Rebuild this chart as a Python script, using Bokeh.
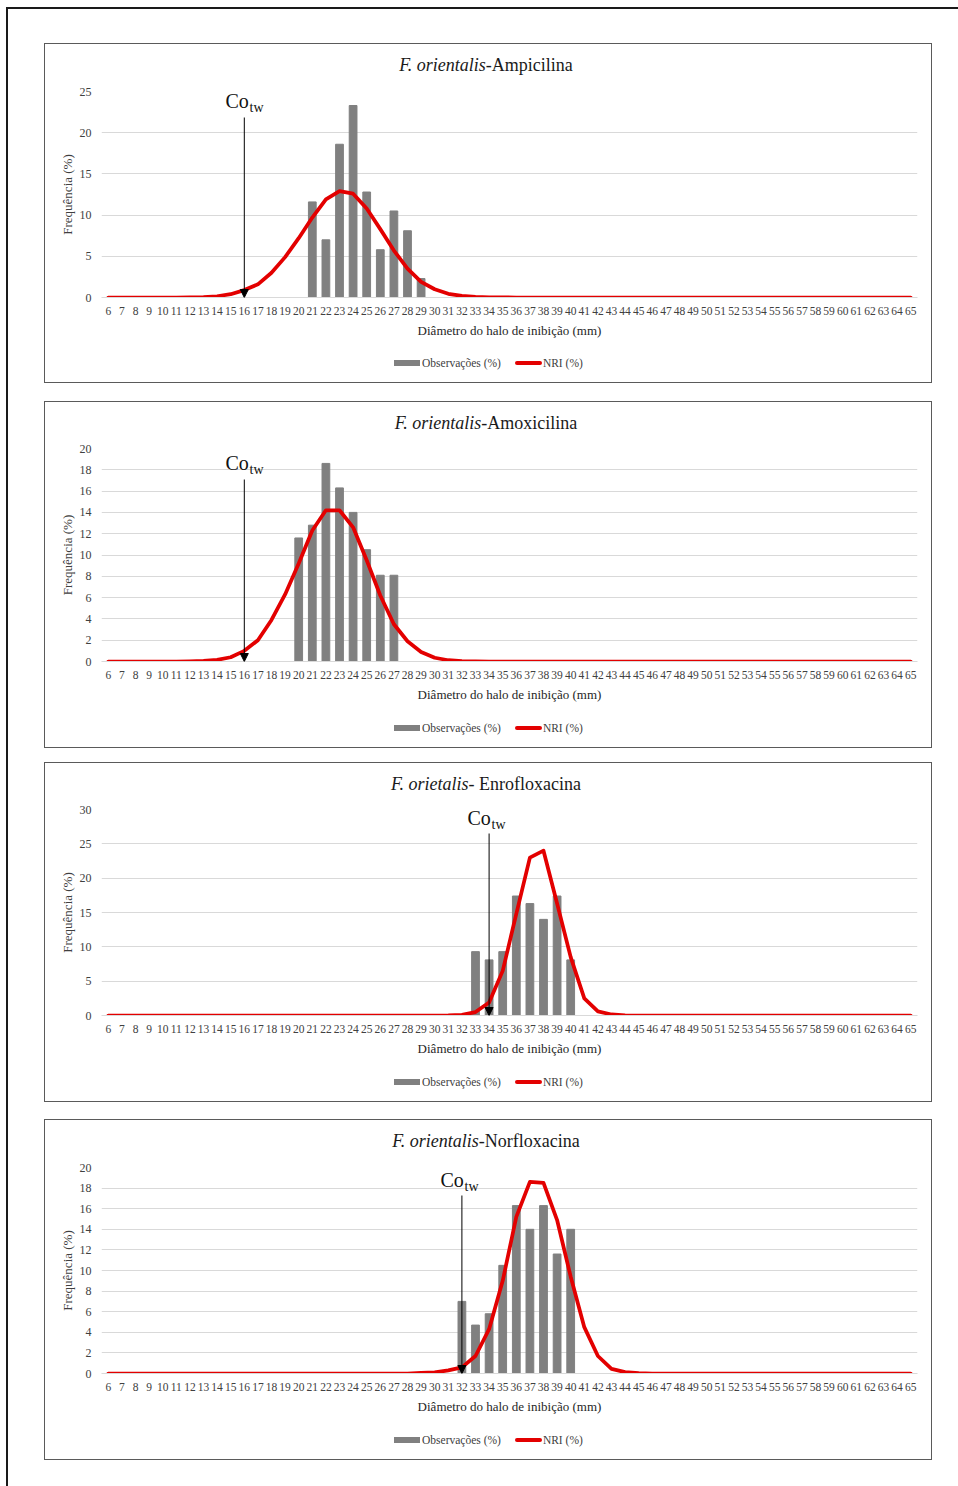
from bokeh.plotting import figure
from bokeh.layouts import column
from bokeh.models import (FixedTicker, Label, Arrow, NormalHead, Range1d, Div)
from bokeh.embed import file_html
from bokeh.resources import INLINE

# ---------------------------------------------------------------------------
# Data: inhibition-zone diameter (mm) categories and frequencies (%)
# ---------------------------------------------------------------------------
diametro = [6, 7, 8, 9, 10, 11, 12, 13, 14, 15, 16, 17, 18, 19, 20, 21, 22, 23,
            24, 25, 26, 27, 28, 29, 30, 31, 32, 33, 34, 35, 36, 37, 38, 39, 40,
            41, 42, 43, 44, 45, 46, 47, 48, 49, 50, 51, 52, 53, 54, 55, 56, 57,
            58, 59, 60, 61, 62, 63, 64, 65]

especie = ["F. orientalis", "F. orientalis", "F. orietalis", "F. orientalis"]
antibiotico = ["-Ampicilina", "-Amoxicilina", "- Enrofloxacina", "-Norfloxacina"]
serie_obs = "Observações (%)"
serie_nri = "NRI (%)"

# Ampicilina
amp_obs_x = [21, 22, 23, 24, 25, 26, 27, 28, 29]
amp_obs = [11.6, 7.0, 18.6, 23.3, 12.8, 5.8, 10.5, 8.1, 2.3]
amp_nri = [0, 0, 0, 0, 0, 0, 0.01, 0.05, 0.15, 0.4,
           0.9, 1.6, 3.0, 4.9, 7.2, 9.7, 11.9, 12.9, 12.6, 10.8,
           8.3, 5.7, 3.5, 1.9, 1.0, 0.45, 0.2, 0.08, 0.03, 0.01,
           0, 0, 0, 0, 0, 0, 0, 0, 0, 0,
           0, 0, 0, 0, 0, 0, 0, 0, 0, 0,
           0, 0, 0, 0, 0, 0, 0, 0, 0, 0]
amp_cotw = 16

# Amoxicilina
amox_obs_x = [20, 21, 22, 23, 24, 25, 26, 27]
amox_obs = [11.6, 12.8, 18.6, 16.3, 14.0, 10.5, 8.1, 8.1]
amox_nri = [0, 0, 0, 0, 0, 0, 0.02, 0.06, 0.15, 0.4,
            1.0, 2.0, 3.9, 6.3, 9.2, 12.3, 14.2, 14.2, 12.6, 9.5,
            6.2, 3.5, 1.9, 0.9, 0.35, 0.12, 0.04, 0.01, 0, 0,
            0, 0, 0, 0, 0, 0, 0, 0, 0, 0,
            0, 0, 0, 0, 0, 0, 0, 0, 0, 0,
            0, 0, 0, 0, 0, 0, 0, 0, 0, 0]
amox_cotw = 16

# Enrofloxacina
enro_obs_x = [33, 34, 35, 36, 37, 38, 39, 40]
enro_obs = [9.3, 8.1, 9.3, 17.4, 16.3, 14.0, 17.4, 8.1]
enro_nri = [0, 0, 0, 0, 0, 0, 0, 0, 0, 0,
            0, 0, 0, 0, 0, 0, 0, 0, 0, 0,
            0, 0, 0, 0, 0, 0.02, 0.1, 0.5, 1.9, 6.5,
            14.8, 23.0, 24.0, 16.3, 8.5, 2.5, 0.6, 0.15, 0.03, 0,
            0, 0, 0, 0, 0, 0, 0, 0, 0, 0,
            0, 0, 0, 0, 0, 0, 0, 0, 0, 0]
enro_cotw = 34

# Norfloxacina
norf_obs_x = [32, 33, 34, 35, 36, 37, 38, 39, 40]
norf_obs = [7.0, 4.7, 5.8, 10.5, 16.3, 14.0, 16.3, 11.6, 14.0]
norf_nri = [0, 0, 0, 0, 0, 0, 0, 0, 0, 0,
            0, 0, 0, 0, 0, 0, 0, 0, 0, 0,
            0, 0, 0, 0.05, 0.1, 0.3, 0.6, 1.7, 4.3, 9.0,
            15.2, 18.6, 18.5, 14.9, 9.4, 4.5, 1.7, 0.45, 0.13, 0.04,
            0, 0, 0, 0, 0, 0, 0, 0, 0, 0,
            0, 0, 0, 0, 0, 0, 0, 0, 0, 0]
norf_cotw = 32

y_max = [25, 20, 30, 20]
y_step = [5, 2, 5, 2]

# ---------------------------------------------------------------------------
# Layout (page pixel positions of each panel)
# ---------------------------------------------------------------------------
SERIF = "Liberation Serif"
BAR = "#808080"
RED = "#e30000"
GRID = "#d9d9d9"
TICK_TXT = "#404040"
PANEL_W = 888           # outer width incl. 1px border
INNER_W = PANEL_W - 2
FRAME_L, FRAME_R = 101, 917
TITLE_H = 34
LEG_H = 34

paineis = [
    dict(obs_x=amp_obs_x, obs=amp_obs, nri=amp_nri, cotw=amp_cotw,
         top=44, ftop=91, fbot=297, h=340, gap=34,
         co=(225, 100), arrow_top=117),
    dict(obs_x=amox_obs_x, obs=amox_obs, nri=amox_nri, cotw=amox_cotw,
         top=402, ftop=448, fbot=661, h=347, gap=18,
         co=(225, 462), arrow_top=479),
    dict(obs_x=enro_obs_x, obs=enro_obs, nri=enro_nri, cotw=enro_cotw,
         top=763, ftop=809, fbot=1015, h=340, gap=14,
         co=(467, 817), arrow_top=833),
    dict(obs_x=norf_obs_x, obs=norf_obs, nri=norf_nri, cotw=norf_cotw,
         top=1120, ftop=1167, fbot=1373, h=341, gap=17,
         co=(440, 1179), arrow_top=1195),
]


def legenda_html():
    return (
        '<div style="width:%dpx;height:%dpx;box-sizing:border-box;padding-top:8px;'
        'padding-left:349px;font-family:\'Liberation Serif\';font-size:11.5px;'
        'color:%s;">'
        '<div style="display:flex;align-items:center;height:14px;white-space:nowrap;">'
        '<span style="display:inline-block;width:26px;height:6px;background:%s;"></span>'
        '<span style="margin-left:2px;">%s</span>'
        '<span style="display:inline-block;margin-left:14px;width:27px;height:4px;'
        'border-radius:2px;background:%s;"></span>'
        '<span style="margin-left:1px;">%s</span>'
        '</div></div>'
    ) % (INNER_W, LEG_H, TICK_TXT, BAR, serie_obs, RED, serie_nri)


def build(i, s):
    ymax = y_max[i]
    frame_h = s["fbot"] - s["ftop"]
    fig_h = s["h"] - 2 - TITLE_H - LEG_H
    b_top = s["ftop"] - s["top"] - TITLE_H
    b_bot = fig_h - b_top - frame_h

    def xd(px):
        return 5.5 + (px - FRAME_L) * 60.0 / (FRAME_R - FRAME_L)

    def yd(py):
        return (s["fbot"] - py) * ymax / frame_h

    titulo = Div(
        text=('<div style="width:%dpx;text-align:center;font-family:\'Liberation Serif\';'
              'font-size:18px;line-height:20px;padding-top:11px;color:#1a1a1a;">'
              '<i>%s</i>%s</div>' % (INNER_W - 4, especie[i], antibiotico[i])),
        width=INNER_W, height=TITLE_H, margin=0)

    p = figure(width=INNER_W, height=fig_h, output_backend="svg",
               toolbar_location=None,
               x_range=Range1d(5.5, 65.5), y_range=Range1d(0, ymax),
               min_border_left=FRAME_L - 45, min_border_right=931 - FRAME_R,
               min_border_top=b_top, min_border_bottom=b_bot, margin=0)
    p.outline_line_color = None
    p.background_fill_color = "white"
    p.border_fill_color = "white"

    # axes
    xa = p.xaxis[0]
    xa.ticker = FixedTicker(ticks=diametro)
    xa.major_label_text_font = SERIF
    xa.major_label_text_font_size = "11.5px"
    xa.major_label_text_color = TICK_TXT
    xa.major_label_standoff = 9
    xa.major_tick_out = 0
    xa.major_tick_in = 0
    xa.minor_tick_out = 0
    xa.minor_tick_in = 0
    xa.axis_line_color = GRID
    xa.axis_label = "Diâmetro do halo de inibição (mm)"
    xa.axis_label_text_font = SERIF
    xa.axis_label_text_font_size = "13px"
    xa.axis_label_text_font_style = "normal"
    xa.axis_label_text_color = "#262626"
    xa.axis_label_standoff = 5

    ya = p.yaxis[0]
    yticks = list(range(0, ymax + 1, y_step[i]))
    ya.ticker = FixedTicker(ticks=yticks)
    ya.major_label_text_font = SERIF
    ya.major_label_text_font_size = "12px"
    ya.major_label_text_color = TICK_TXT
    ya.major_label_standoff = 10
    ya.major_tick_out = 0
    ya.major_tick_in = 0
    ya.minor_tick_out = 0
    ya.minor_tick_in = 0
    ya.axis_line_color = None
    ya.axis_label = "Frequência (%)"
    ya.axis_label_text_font = SERIF
    ya.axis_label_text_font_size = "13px"
    ya.axis_label_text_font_style = "normal"
    ya.axis_label_text_color = TICK_TXT
    ya.axis_label_standoff = 2

    p.xgrid.grid_line_color = None
    p.ygrid.ticker = FixedTicker(ticks=yticks)
    p.ygrid.grid_line_color = GRID

    # observed frequencies and NRI curve
    p.vbar(x=s["obs_x"], top=s["obs"], width=0.57, color=BAR)
    p.line(diametro, s["nri"], line_color=RED, line_width=3.75,
           line_join="round", line_cap="round")

    # cut-off marker
    cx, cy = s["co"]
    p.add_layout(Label(x=xd(cx), y=yd(cy), text="Co", text_font=SERIF,
                       text_font_size="20px", text_color="#111111",
                       text_align="left", text_baseline="middle"))
    p.add_layout(Label(x=xd(cx + 24), y=yd(cy + 7), text="tw", text_font=SERIF,
                       text_font_size="14px", text_color="#111111",
                       text_align="left", text_baseline="middle"))
    p.add_layout(Arrow(end=NormalHead(size=8, fill_color="black",
                                      line_color="black"),
                       x_start=s["cotw"], y_start=yd(s["arrow_top"]),
                       x_end=s["cotw"], y_end=0,
                       line_color="black", line_width=1))

    legenda = Div(text=legenda_html(), width=INNER_W, height=LEG_H, margin=0)

    return column(titulo, p, legenda, width=PANEL_W, height=s["h"],
                  margin=(s["gap"], 0, 0, 36),
                  styles={"border": "1px solid #5a5a5a",
                          "background-color": "white"})


panels = [build(i, s) for i, s in enumerate(paineis)]

root = column(*panels, width=952, height=1479, margin=(7, 0, 0, 6),
              styles={"border-left": "2px solid #1a1a1a",
                      "border-top": "2px solid #1a1a1a"})

with open("out.html", "w") as f:
    f.write(file_html(root, INLINE, "Frequência"))
